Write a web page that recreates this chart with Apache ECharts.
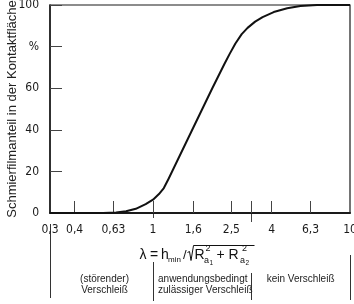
<!DOCTYPE html>
<html>
<head>
<meta charset="utf-8">
<script src="https://cdn.jsdelivr.net/npm/echarts@6/dist/echarts.min.js"></script>
<style>
  html, body { margin: 0; padding: 0; background: #fff; }
  #chart { width: 354px; height: 304px; }
</style>
</head>
<body>
<div id="chart"></div>
<script>
// λ = h_min / sqrt(Ra1² + Ra2²)  vs. Schmierfilmanteil [%]
const lambda = [0.3, 0.45, 0.558, 0.65, 0.73, 0.818, 0.918, 1.0, 1.072, 1.135, 1.2, 1.6, 2.0, 2.3, 2.45, 2.62, 2.82, 3.02, 3.3, 3.6, 4.1, 4.8, 5.6, 6.8, 10]
const share = [0, 0, 0, 0.3, 0.8, 2.0, 4.3, 6.4, 9.1, 12, 16.5, 41, 60, 71.5, 76.5, 81.5, 86, 89, 92, 94.2, 96.6, 98.4, 99.5, 100, 100]

const xLabelValues = [0.3, 0.4, 0.63, 1, 1.6, 2.5, 4, 6.3, 10]
const xTickValues = [0.4, 0.63, 1, 1.6, 2.5, 3.15, 4, 6.3]
const yTickValues = [0, 20, 40, 60, 80, 100]

// Bereichsgrenzen unter der Achse
const zoneBounds = [0.3, 1, 3.15, 10]
const zoneLabels = ['(störender)\nVerschleiß', 'anwendungsbedingt\nzulässiger Verschleiß', 'kein Verschleiß']

const ink = '#1a1a1a'
const narrow = '"Liberation Sans Narrow", "DejaVu Sans Condensed", "Liberation Sans", sans-serif'
const sans = '"Liberation Sans", Arial, sans-serif'

const chart = echarts.init(document.getElementById('chart'), null, { renderer: 'canvas' })

const option = {
  animation: false,
  backgroundColor: '#fff',
  grid: {
    left: 50,
    right: 4,
    top: 5,
    bottom: 91,
    containLabel: false,
    outerBoundsMode: 'none',
    show: true,
    borderColor: ink,
    borderWidth: 1.2
  },
  xAxis: {
    type: 'log',
    logBase: 10,
    min: 0.3,
    max: 10,
    axisLine: { show: true, lineStyle: { color: ink, width: 2 } },
    axisTick: {
      show: true,
      inside: true,
      length: 12,
      customValues: xTickValues,
      lineStyle: { color: '#444', width: 1 }
    },
    axisLabel: {
      customValues: xLabelValues,
      margin: 11,
      hideOverlap: false,
      fontFamily: narrow,
      fontSize: 12,
      color: ink,
      formatter: v => String(+(+v).toPrecision(3)).replace('.', ',')
    },
    splitLine: { show: false },
    minorTick: { show: false }
  },
  yAxis: {
    type: 'value',
    min: 0,
    max: 100,
    interval: 20,
    name: 'Schmierfilmanteil in der Kontaktfläche',
    nameLocation: 'middle',
    nameRotate: 90,
    nameGap: 31,
    nameMoveOverlap: false,
    nameTextStyle: { fontFamily: sans, fontSize: 13, color: '#222' },
    axisLine: { show: true, lineStyle: { color: ink, width: 1.5 } },
    axisTick: {
      show: true,
      inside: true,
      length: 12,
      customValues: yTickValues,
      lineStyle: { color: '#444', width: 1 }
    },
    axisLabel: {
      margin: 11,
      fontFamily: narrow,
      fontSize: 12,
      color: ink,
      formatter: v => (v === 80 ? '%' : String(v))
    },
    splitLine: { show: false }
  },
  series: [{
    type: 'line',
    data: lambda.map((l, i) => [l, share[i]]),
    showSymbol: false,
    smooth: false,
    lineStyle: { color: '#111', width: 2, join: 'round' },
    z: 3
  }]
}

chart.setOption(option)

// Trennlinien, Bereichstexte und Formel unter der Achse
const px = v => chart.convertToPixel({ xAxisIndex: 0 }, v)
const y0 = chart.convertToPixel({ yAxisIndex: 0 }, 0)
const sepRanges = [[224, 298], [262, 301], [273, 300], [255, 300]]
const graphics = []

zoneBounds.forEach((b, i) => {
  const x = Math.round(px(b)) + 0.5
  graphics.push({
    type: 'line',
    shape: { x1: x, y1: sepRanges[i][0], x2: x, y2: sepRanges[i][1] },
    style: { stroke: '#333', lineWidth: 1 }
  })
})
// verlängerte Striche bei 1 und 3,15
;[[1, 5], [3.15, 9]].forEach(([v, len]) => {
  const x = Math.round(px(v)) + 0.5
  graphics.push({
    type: 'line',
    shape: { x1: x, y1: y0, x2: x, y2: y0 + len },
    style: { stroke: '#444', lineWidth: 1 }
  })
})

zoneLabels.forEach((t, i) => {
  const cx = (px(zoneBounds[i]) + px(zoneBounds[i + 1])) / 2 + (i === 0 ? 3 : 0)
  graphics.push({
    type: 'text',
    x: i === 1 ? px(zoneBounds[1]) + 5 : cx,
    y: 274,
    style: {
      text: t,
      fill: '#222',
      font: '10px ' + sans,
      lineHeight: 10.5,
      align: i === 1 ? 'left' : 'center',
      verticalAlign: 'top'
    }
  })
})

// Formel λ = h_min / √(Ra1² + Ra2²)
const fy = 255
const txt = (s, x, dy, size) => ({
  type: 'text',
  x: x,
  y: fy + dy,
  style: { text: s, fill: '#111', font: size + 'px ' + sans, verticalAlign: 'middle', align: 'left' }
})
graphics.push(
  txt('λ', 139.5, 0, 14),
  txt('=', 150, 0, 14),
  txt('h', 161, 0, 14),
  txt('min', 168, 4.5, 8),
  txt('/', 183, 0, 13),
  txt('R', 194.5, 0, 14),
  txt('2', 205.5, -6.5, 9),
  txt('a', 204, 6, 9),
  txt('1', 209.5, 8.5, 6.5),
  txt('+', 216.5, 0, 14),
  txt('R', 228.5, 0, 14),
  txt('2', 242, -6.5, 9),
  txt('a', 240, 6, 9),
  txt('2', 245.5, 8.5, 6.5),
  {
    type: 'polyline',
    shape: { points: [[187.5, 252.5], [189.5, 251.5], [191, 260.5], [193.5, 245.5], [254.5, 245.5]] },
    style: { stroke: '#111', lineWidth: 1, fill: null }
  }
)

chart.setOption({ graphic: graphics })
</script>
</body>
</html>
